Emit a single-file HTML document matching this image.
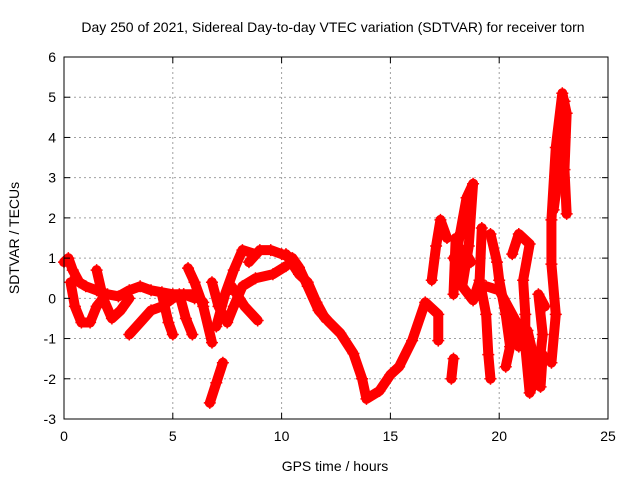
<!DOCTYPE html>
<html><head><meta charset="utf-8"><style>
body{margin:0;background:#fff}
svg{display:block;font-family:"Liberation Sans",sans-serif;font-size:14px}
</style></head><body>
<svg width="640" height="480" id="chart">
<text x="333" y="32" text-anchor="middle">Day 250 of 2021, Sidereal Day-to-day VTEC variation (SDTVAR) for receiver torn</text>
<text x="335" y="471" text-anchor="middle">GPS time / hours</text>
<text transform="translate(19,238) rotate(-90)" text-anchor="middle">SDTVAR / TECUs</text>
<g id="grid"></g>
<g id="marks"></g>
<rect x="64" y="57" width="544" height="362" fill="none" stroke="#000" stroke-width="1"/>
<g id="ticks"></g>
</svg>
<script>
const xTicks=[0,5,10,15,20,25];
const yTicks=[-3,-2,-1,0,1,2,3,4,5,6];
const arc1=[[0,0.9],[0.2,1.0],[0.4,0.7],[0.7,0.4],[1,0.3],[1.5,0.2],[2,0.1],[2.5,0.05],[3,0.2],[3.5,0.3],[4,0.2],[4.5,0.15],[5,0.1],[5.5,0.1],[6,0.1],[6.4,-0.1]];
const arc2=[[0.3,0.4],[0.5,-0.2],[0.8,-0.6],[1.2,-0.6],[1.5,-0.2],[1.8,0]];
const arc3=[[1.5,0.7],[1.8,0],[2.2,-0.5],[2.6,-0.3],[3,0]];
const arc4=[[3,-0.9],[3.5,-0.6],[4,-0.3],[4.5,-0.2],[5,0],[5.5,0.1],[6,0]];
const arc5=[[4.5,0.1],[4.8,-0.6],[5,-0.9]];
const arc6=[[5.3,0.1],[5.6,-0.5],[5.9,-0.9]];
const arc7=[[5.7,0.75],[6,0.4],[6.4,-0.2],[6.8,-1.1]];
const arc8=[[6.7,-2.6],[7.0,-2.1],[7.3,-1.6]];
const arc9=[[6.8,0.4],[7.1,-0.2],[7.5,-0.6],[7.8,-0.2],[8.2,0.3],[8.8,0.5],[9.6,0.6],[10.2,0.8]];
const arc10=[[7.0,-0.7],[7.4,0.1],[7.8,0.7],[8.2,1.2],[8.8,1.1]];
const arc11=[[7.7,0.3],[8.3,-0.2],[8.9,-0.55]];
const arc12=[[8.5,0.9],[9,1.2],[9.5,1.2],[10,1.1],[10.5,1.0],[10.8,0.77],[11.2,0.3],[11.7,-0.3],[12.2,-0.6],[12.7,-0.87],[13.3,-1.37],[13.7,-2.0],[13.9,-2.5],[14.5,-2.3],[15,-1.9],[15.4,-1.7],[16,-1.05],[16.6,-0.1],[17.2,-0.4],[17.2,-1.05]];
const arc13=[[10.2,1.1],[10.8,0.6],[11.2,0.4],[11.6,-0.1],[12,-0.5]];
const arc14=[[16.9,0.45],[17.1,1.3],[17.3,1.95],[17.6,1.5]];
const arc15=[[17.9,-1.5],[17.8,-2.0]];
const arc16=[[17.9,0.1],[18.0,1.5],[18.1,1.3],[18.5,2.5],[18.8,2.85],[18.6,1.3],[18.3,0.3],[18.8,-0.05],[19.1,0.45],[19.2,1.75]];
const arc17=[[19.1,0.45],[19.4,-0.4],[19.5,-1.4],[19.6,-2.0]];
const arc18=[[19.6,1.6],[19.9,0.9],[20,0.45],[20.3,-0.4],[20.5,-1.2],[20.3,-1.7]];
const arc19=[[19.4,0.3],[20,0.2],[20.8,-0.6],[20.9,-1.2]];
const arc20=[[20.6,1.1],[20.9,1.6],[21.4,1.35],[21.1,0.45],[21.2,-0.4],[21.2,-1.2],[21.4,-2.35],[21.8,-1.85],[22.0,-0.9],[21.8,0.1],[22.1,-0.2]];
const arc21=[[22.4,-1.6],[22.6,-0.4],[22.4,0.85],[22.4,1.95],[22.6,3.75],[22.9,5.1],[23.1,4.6],[23.0,3.2],[23.1,2.1]];
const arc22=[[17.9,1.0],[18.2,0.7],[18.0,0.3],[18.4,1.2],[18.7,0.9]];
const arc23=[[21.3,-0.8],[21.6,-1.5],[21.9,-2.2],[22.0,-1.4]];
const arc24=[[22.5,2.2],[22.7,3.0],[22.8,4.0],[23.0,4.9]];
const series=[arc1,arc2,arc3,arc4,arc5,arc6,arc7,arc8,arc9,arc10,arc11,arc12,arc13,arc14,arc15,arc16,arc17,arc18,arc19,arc20,arc21,arc22,arc23,arc24];
const X0=64,X1=608,Y0=419,Y1=57;
const xs=v=>X0+(v-0)/(25-0)*(X1-X0);
const ys=v=>Y0-(v+3)/(6+3)*(Y0-Y1);
const NS="http://www.w3.org/2000/svg";
const grid=document.getElementById('grid'),ticks=document.getElementById('ticks'),marks=document.getElementById('marks');
function mk(tag,attrs,parent){const e=document.createElementNS(NS,tag);for(const k in attrs)e.setAttribute(k,attrs[k]);parent.appendChild(e);return e;}
xTicks.forEach(t=>{const x=xs(t);
 if(t>0&&t<25){const g=mk('line',{x1:x,x2:x,y1:Y0,y2:Y1,stroke:'#a0a0a0','stroke-dasharray':'2,3'},grid);
 
 }
 mk('line',{x1:x,x2:x,y1:Y0,y2:Y0-6,stroke:'#000'},ticks);mk('line',{x1:x,x2:x,y1:Y1,y2:Y1+6,stroke:'#000'},ticks);
 const l=mk('text',{x:x,y:Y0+22,'text-anchor':'middle'},ticks);l.textContent=t;
 
 });
yTicks.forEach(t=>{const y=ys(t);
 if(t>-3&&t<6){const g=mk('line',{x1:X0,x2:X1,y1:y,y2:y,stroke:'#a0a0a0','stroke-dasharray':'2,3'},grid);
 
 }
 mk('line',{x1:X0,x2:X0+6,y1:y,y2:y,stroke:'#000'},ticks);mk('line',{x1:X1,x2:X1-6,y1:y,y2:y,stroke:'#000'},ticks);
 const l=mk('text',{x:X0-8,y:y+5,'text-anchor':'end'},ticks);l.textContent=t;
 
 });
series.forEach((s,i)=>{
 const p=mk('polyline',{points:s.map(d=>xs(d[0])+','+ys(d[1])).join(' '),fill:'none',stroke:'#f00','stroke-width':10,'stroke-linejoin':'round','stroke-linecap':'round'},marks);
 
 
 s.forEach(d=>{const x=xs(d[0]),y=ys(d[1]);
  const m=mk('path',{d:`M${x-6},${y}h12M${x},${y-6}v12`,stroke:'#f00','stroke-width':1.5},marks);
  
  });
});
</script>
</body></html>
